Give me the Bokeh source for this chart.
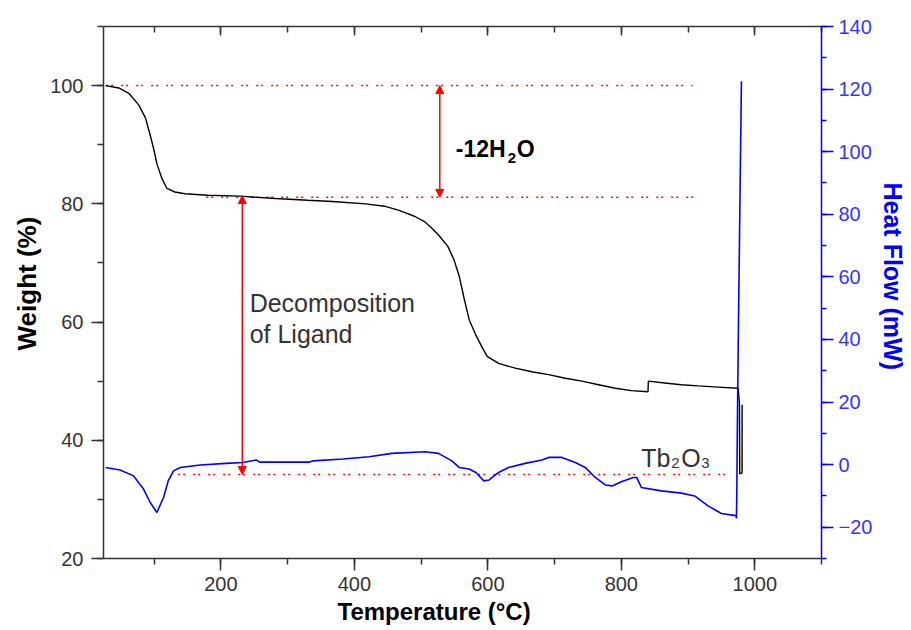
from bokeh.plotting import figure
from bokeh.models import (Range1d, LinearAxis, SingleIntervalTicker, Label,
                          Arrow, NormalHead, Title)
from bokeh.embed import file_html
from bokeh.resources import INLINE

# ---------------- data ----------------
# TGA curve: temperature (°C) vs weight (%)
temp_tga = [27, 47, 62, 77, 87, 94, 99, 104, 111.5, 119, 131, 146, 180, 228,
            282, 330, 367, 417, 445, 467, 490, 505, 517, 527, 540, 549, 557,
            564, 572, 582, 592, 599, 616, 641, 666, 691, 716, 741, 766, 791,
            815, 840, 840.5, 865, 890, 915, 945, 975, 977, 977.5, 981, 981]
weight_pct = [100.0, 99.6, 98.7, 96.7, 94.5, 91.6, 89.4, 86.8, 84.3, 82.6,
              82.0, 81.7, 81.45, 81.3, 80.9, 80.6, 80.4, 80.0, 79.6, 78.9,
              77.9, 77.0, 75.8, 74.6, 72.8, 70.6, 67.8, 64.2, 60.4, 57.8,
              55.6, 54.2, 53.0, 52.2, 51.6, 51.1, 50.5, 50.0, 49.4, 48.8,
              48.4, 48.2, 50.0, 49.7, 49.4, 49.2, 49.0, 48.8, 46.3, 34.3,
              34.5, 46.0]

# DSC curve: temperature (°C) vs heat flow (mW)
temp_dsc = [27, 49, 69, 84, 94, 104, 114, 121, 129, 139, 169, 208, 233, 253,
            258, 333, 338, 383, 422, 456, 506, 526, 546, 557, 572, 582, 594,
            602, 616, 631, 656, 681, 691, 711, 731, 746, 761, 776, 786, 801,
            818, 823, 830, 860, 890, 910, 930, 950, 972, 972.5, 973, 974,
            975.5, 978, 980]
heat_flow_mw = [-0.9, -1.7, -3.6, -7.8, -12.1, -15.3, -10.5, -5.2, -2.0, -0.9,
                -0.1, 0.4, 0.7, 1.5, 0.8, 0.8, 1.2, 1.8, 2.5, 3.6, 4.1, 3.6,
                1.2, -0.9, -1.4, -2.5, -5.2, -4.9, -2.5, -0.9, 0.4, 1.5, 2.3,
                2.3, 0.7, -0.9, -4.1, -6.5, -6.8, -5.4, -4.1, -4.1, -7.3,
                -8.4, -9.1, -10.0, -13.2, -15.6, -16.3, -17.2, -10.5, 14.0,
                43.8, 88.0, 122.5]

# reference (dotted) levels on the weight scale
ref_levels = [100.0, 81.1, 34.2]
ref_starts = [28, 178, 136]
ref_ends = [907, 914, 960]

# mass-loss arrows
water_arrow_t = 528
water_arrow_from = 81.1
water_arrow_to = 100.0
ligand_arrow_t = 232
ligand_arrow_top = 81.4
ligand_arrow_bottom = 34.2

x_label = "Temperature (°C)"
y_label = "Weight (%)"
y2_label = "Heat Flow (mW)"

FONT = "Liberation Sans"
AX = "#333333"
BLUE = "#0000ff"
RED = "#ff0000"

p = figure(width=911, height=630, output_backend="svg", toolbar_location=None,
           x_range=Range1d(24, 1100), y_range=Range1d(20, 110),
           min_border_left=103, min_border_right=86, min_border_top=26,
           min_border_bottom=72)
p.extra_y_ranges = {"hf": Range1d(-30, 140)}
p.xgrid.visible = False
p.ygrid.visible = False
p.outline_line_color = None
p.background_fill_color = "white"
p.border_fill_color = "white"

# bottom axis
xa = p.xaxis[0]
xa.ticker = SingleIntervalTicker(interval=200, num_minor_ticks=2)
# left axis
ya = p.yaxis[0]
ya.ticker = SingleIntervalTicker(interval=20, num_minor_ticks=2)

for ax in (xa, ya):
    ax.axis_line_color = AX
    ax.axis_line_width = 1.5
    ax.major_tick_line_color = AX
    ax.minor_tick_line_color = AX
    ax.major_tick_line_width = 1.5
    ax.minor_tick_line_width = 1.5
    ax.major_tick_out = 12
    ax.major_tick_in = 0
    ax.minor_tick_out = 6
    ax.minor_tick_in = 0
    ax.major_label_text_font = FONT
    ax.major_label_text_font_size = "20px"
    ax.major_label_text_color = AX
xa.major_label_standoff = 6
ya.major_label_standoff = 8

# top mirror axis (ticks only, no labels)
top = LinearAxis(ticker=SingleIntervalTicker(interval=200, num_minor_ticks=2),
                 axis_line_color=AX, axis_line_width=1.5,
                 major_tick_line_color=AX, minor_tick_line_color=AX,
                 major_tick_line_width=1.5, minor_tick_line_width=1.5,
                 major_tick_in=9, major_tick_out=0,
                 minor_tick_in=6, minor_tick_out=0,
                 major_label_text_font_size="1px",
                 major_label_text_color=None, major_label_standoff=0)
p.add_layout(top, "above")

# right axis (heat flow)
ra = LinearAxis(y_range_name="hf",
                ticker=SingleIntervalTicker(interval=20, num_minor_ticks=2),
                axis_line_color=BLUE, axis_line_width=1.5,
                major_tick_line_color=BLUE, minor_tick_line_color=BLUE,
                major_tick_line_width=1.5, minor_tick_line_width=1.5,
                major_tick_out=12, major_tick_in=0,
                minor_tick_out=5, minor_tick_in=0,
                major_label_text_font=FONT, major_label_text_font_size="20px",
                major_label_text_color="#3535ff", major_label_standoff=5)
p.add_layout(ra, "right")

# axis titles, placed (like the reference) off-centre along their axes
p.add_layout(Title(text=x_label, text_font=FONT, text_font_size="24px",
                   text_font_style="bold", text_color="black",
                   align="left", offset=234, standoff=5), "below")
p.add_layout(Title(text=y_label, text_font=FONT, text_font_size="26px",
                   text_font_style="bold", text_color="black",
                   align="left", offset=208, standoff=12), "left")
p.add_layout(Title(text=y2_label, text_font=FONT, text_font_size="25px",
                   text_font_style="bold", text_color=BLUE,
                   align="left", offset=156, standoff=6), "right")

# reference dotted lines
p.segment(x0=ref_starts, y0=ref_levels, x1=ref_ends, y1=ref_levels,
          line_color=RED, line_width=1.5, line_dash="2 3 2 8")

# curves
p.line(temp_tga, weight_pct, line_color="black", line_width=1.4)
p.line(temp_dsc, heat_flow_mw, y_range_name="hf", line_color=BLUE,
       line_width=1.6)

# arrows
def head():
    return NormalHead(size=8, line_color=RED, fill_color=RED, line_width=1)

p.add_layout(Arrow(start=head(), end=head(), x_start=water_arrow_t,
                   y_start=water_arrow_from, x_end=water_arrow_t,
                   y_end=water_arrow_to, line_color=RED, line_width=1.5))
p.add_layout(Arrow(start=head(), end=head(), x_start=ligand_arrow_t,
                   y_start=ligand_arrow_bottom, x_end=ligand_arrow_t,
                   y_end=ligand_arrow_top, line_color=RED, line_width=1.5))

# text annotations
def lab(text, x, y, size, color="#333333", style="normal", dx=0, dy=0):
    p.add_layout(Label(x=x, y=y, text=text, x_offset=dx, y_offset=dy,
                       text_font=FONT, text_font_size=size,
                       text_font_style=style, text_color=color,
                       text_align="left", text_baseline="alphabetic"))

# -12H2O
lab("-12H", 552, 89.2, "23px", "black", "bold")
lab("2", 552, 89.2, "15px", "black", "bold", dx=52, dy=-9)
lab("O", 552, 89.2, "23px", "black", "bold", dx=61)

# Decomposition of Ligand
lab("Decomposition", 243, 63.2, "25px")
lab("of Ligand", 243, 58.0, "25px")

# Tb2O3
lab("Tb", 830, 37.0, "25px")
lab("2", 830, 37.0, "15px", dx=30, dy=-5)
lab("O", 830, 37.0, "25px", dx=40)
lab("3", 830, 37.0, "15px", dx=60, dy=-5)

open("out.html", "w").write(file_html(p, INLINE))
